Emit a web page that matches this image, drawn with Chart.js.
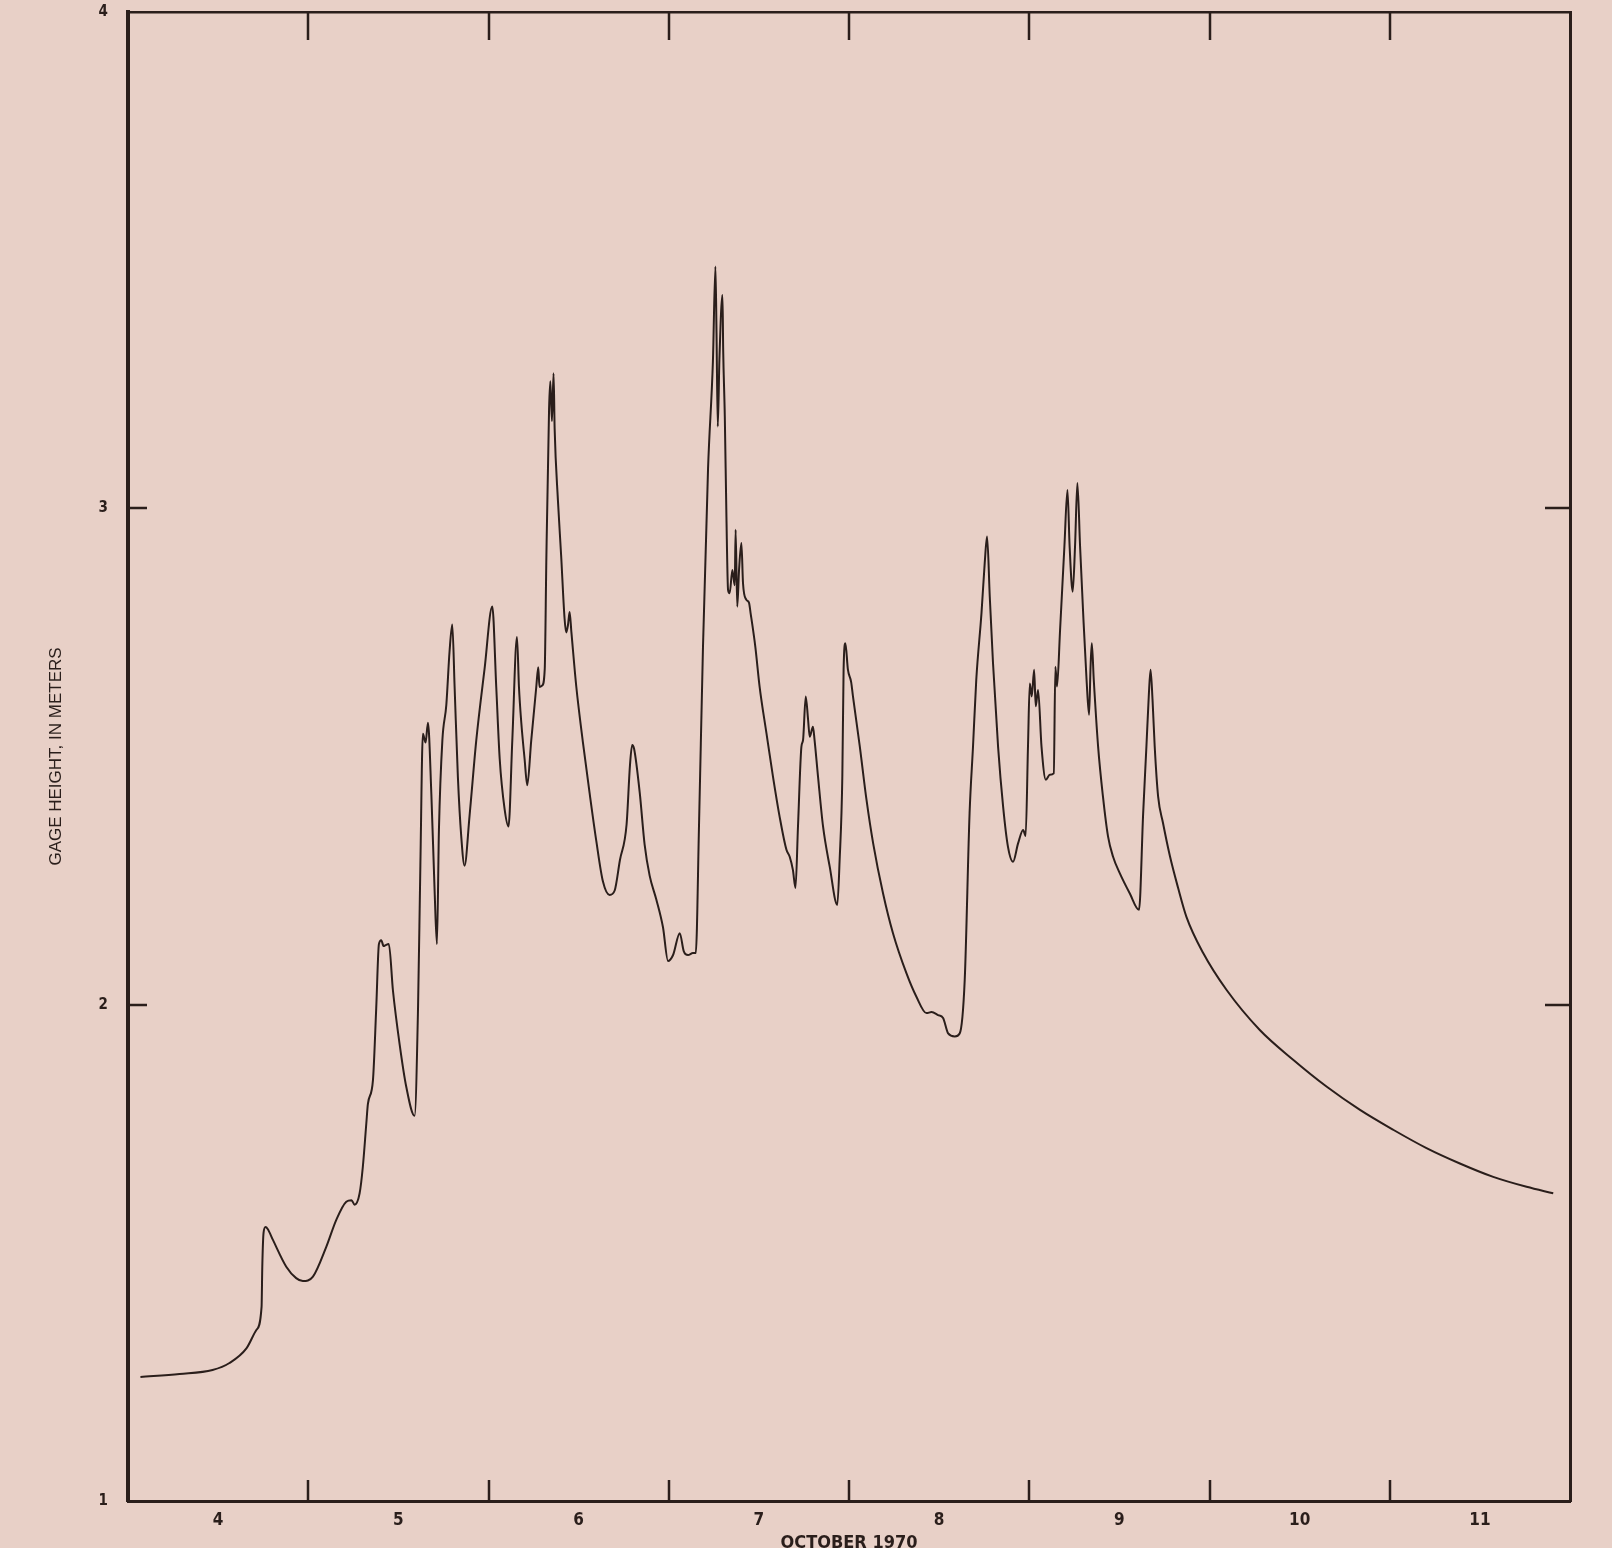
<!DOCTYPE html>
<html>
<head>
<meta charset="utf-8">
<title>Gage height, October 1970</title>
<script src="https://cdn.jsdelivr.net/npm/chart.js@4/dist/chart.umd.min.js"></script>
<style>
	html, body { margin: 0; padding: 0; background: #e8d0c7; overflow: hidden; }
	#wrap { width: 1612px; height: 1548px; }
</style>
</head>
<body>
<div id="wrap"><canvas id="gageChart" width="1612" height="1548"></canvas></div>
<script>
// time in days of October 1970 (4.5 = noon Oct 4), gage height in meters
const days = [
	4.069, 4.286, 4.469, 4.563, 4.658, 4.713, 4.741, 4.745, 4.752, 4.763, 4.775, 4.804, 4.878, 4.933, 4.970,
	5.026, 5.100, 5.155, 5.211, 5.240, 5.257, 5.285, 5.303, 5.322, 5.331, 5.359, 5.377, 5.392, 5.405, 5.418,
	5.429, 5.447, 5.470, 5.507, 5.544, 5.590, 5.609, 5.622, 5.636, 5.651, 5.664, 5.683, 5.701, 5.714, 5.725,
	5.744, 5.766, 5.784, 5.799, 5.812, 5.830, 5.849, 5.867, 5.895, 5.932, 5.978, 6.021, 6.043, 6.062, 6.089,
	6.111, 6.132, 6.158, 6.169, 6.182, 6.200, 6.215, 6.237, 6.265, 6.276, 6.283, 6.298, 6.312, 6.321, 6.336,
	6.343, 6.352, 6.361, 6.367, 6.385, 6.403, 6.422, 6.431, 6.441, 6.450, 6.460, 6.487, 6.524, 6.561, 6.598,
	6.635, 6.672, 6.700, 6.729, 6.766, 6.785, 6.797, 6.808, 6.839, 6.866, 6.894, 6.931, 6.968, 6.996, 7.024,
	7.061, 7.083, 7.107, 7.134, 7.150, 7.168, 7.190, 7.218, 7.245, 7.259, 7.265, 7.272, 7.281, 7.298, 7.302,
	7.311, 7.320, 7.329, 7.338, 7.353, 7.366, 7.371, 7.380, 7.390, 7.403, 7.412, 7.430, 7.445, 7.454, 7.480,
	7.504, 7.542, 7.578, 7.615, 7.653, 7.671, 7.689, 7.703, 7.717, 7.736, 7.745, 7.760, 7.773, 7.782, 7.800,
	7.809, 7.828, 7.856, 7.893, 7.935, 7.948, 7.963, 7.970, 7.980, 7.994, 8.012, 8.022, 8.060, 8.097, 8.134,
	8.189, 8.244, 8.319, 8.374, 8.430, 8.458, 8.494, 8.522, 8.550, 8.587, 8.614, 8.642, 8.669, 8.688, 8.706,
	8.735, 8.753, 8.766, 8.781, 8.799, 8.827, 8.855, 8.882, 8.910, 8.938, 8.966, 8.980, 8.993, 9.003, 9.014,
	9.027, 9.036, 9.049, 9.068, 9.092, 9.114, 9.136, 9.145, 9.154, 9.171, 9.195, 9.212, 9.224, 9.241, 9.254,
	9.267, 9.282, 9.299, 9.318, 9.332, 9.340, 9.347, 9.358, 9.382, 9.409, 9.437, 9.465, 9.502, 9.558, 9.609,
	9.632, 9.650, 9.663, 9.673, 9.684, 9.696, 9.715, 9.742, 9.780, 9.826, 9.872, 9.965, 10.094, 10.279, 10.464,
	10.649, 10.835, 11.019, 11.204, 11.389, 11.574, 11.759, 11.907,
];

const gageHeights = [
	1.250, 1.256, 1.264, 1.278, 1.308, 1.345, 1.391, 1.472, 1.540, 1.552, 1.548, 1.526, 1.472, 1.449, 1.443,
	1.452, 1.512, 1.566, 1.603, 1.606, 1.597, 1.620, 1.674, 1.760, 1.800, 1.848, 1.992, 2.122, 2.130, 2.118,
	2.120, 2.122, 2.028, 1.920, 1.834, 1.776, 1.992, 2.280, 2.546, 2.528, 2.568, 2.424, 2.230, 2.122, 2.352,
	2.532, 2.604, 2.712, 2.766, 2.640, 2.460, 2.338, 2.280, 2.381, 2.532, 2.676, 2.802, 2.640, 2.496, 2.395,
	2.359, 2.532, 2.741, 2.640, 2.568, 2.496, 2.442, 2.532, 2.640, 2.680, 2.640, 2.643, 2.676, 2.900, 3.200,
	3.256, 3.176, 3.272, 3.160, 3.017, 2.905, 2.778, 2.750, 2.765, 2.791, 2.750, 2.641, 2.528, 2.426, 2.330,
	2.248, 2.221, 2.230, 2.291, 2.363, 2.483, 2.523, 2.515, 2.427, 2.323, 2.260, 2.212, 2.156, 2.088, 2.100,
	2.144, 2.108, 2.100, 2.104, 2.104, 2.363, 2.722, 3.080, 3.296, 3.487, 3.353, 3.165, 3.299, 3.430, 3.319,
	3.185, 2.983, 2.836, 2.829, 2.876, 2.845, 2.957, 2.802, 2.876, 2.930, 2.849, 2.816, 2.810, 2.789, 2.722,
	2.641, 2.547, 2.460, 2.379, 2.312, 2.298, 2.271, 2.235, 2.359, 2.520, 2.533, 2.621, 2.574, 2.540, 2.560,
	2.533, 2.460, 2.359, 2.278, 2.201, 2.291, 2.460, 2.675, 2.728, 2.675, 2.650, 2.621, 2.520, 2.413, 2.325,
	2.224, 2.144, 2.063, 2.016, 1.983, 1.985, 1.979, 1.973, 1.942, 1.936, 1.942, 2.050, 2.386, 2.520, 2.654,
	2.789, 2.890, 2.943, 2.822, 2.688, 2.520, 2.399, 2.318, 2.288, 2.325, 2.352, 2.340, 2.520, 2.647, 2.621,
	2.675, 2.601, 2.634, 2.520, 2.453, 2.463, 2.466, 2.681, 2.641, 2.755, 2.923, 3.037, 2.923, 2.832, 2.923,
	3.051, 2.923, 2.789, 2.654, 2.584, 2.680, 2.728, 2.654, 2.520, 2.419, 2.339, 2.298, 2.265, 2.224, 2.191,
	2.386, 2.520, 2.621, 2.675, 2.614, 2.520, 2.419, 2.366, 2.300, 2.235, 2.177, 2.104, 2.030, 1.949, 1.889,
	1.835, 1.788, 1.748, 1.711, 1.680, 1.653, 1.633, 1.620,
];

const dayLabels = [4, 5, 6, 7, 8, 9, 10, 11];
const dayBoundaries = [5, 6, 7, 8, 9, 10, 11];
const heightTicks = [1, 2, 3, 4];
const innerHeightTicks = [2, 3];

const INK = "#2a1e1b";
const FONT = "'Liberation Sans Narrow', 'DejaVu Sans Condensed', 'Liberation Sans', Arial, sans-serif";

// tick marks on the inside of the frame, as on the original plot
const innerTicks = {
	id: "innerTicks",
	afterDraw(chart) {
		const { ctx, chartArea: a, scales } = chart;
		ctx.save();
		ctx.strokeStyle = INK;
		ctx.lineWidth = 2.5;
		ctx.beginPath();
		dayBoundaries.forEach((d) => {
			const x = Math.round(scales.x.getPixelForValue(d));
			ctx.moveTo(x, a.bottom);
			ctx.lineTo(x, a.bottom - 21);
			ctx.moveTo(x, a.top);
			ctx.lineTo(x, a.top + 28);
		});
		innerHeightTicks.forEach((h) => {
			const y = Math.round(scales.y.getPixelForValue(h));
			ctx.moveTo(a.left, y);
			ctx.lineTo(a.left + 19, y);
			ctx.moveTo(a.right, y);
			ctx.lineTo(a.right - 25, y);
		});
		ctx.stroke();
		ctx.restore();
	},
};

function drawChart() {
	const ctx = document.getElementById("gageChart");
	new Chart(ctx, {
		type: "line",
		data: {
			datasets: [
				{
					data: days.map((d, i) => ({ x: d, y: gageHeights[i] })),
					borderColor: INK,
					borderWidth: 2,
					pointRadius: 0,
					cubicInterpolationMode: "monotone",
					fill: false,
				},
			],
		},
		options: {
			responsive: false,
			animation: false,
			devicePixelRatio: 1,
			layout: {
				padding: { top: 12, right: 42, left: 0, bottom: 0 },
			},
			plugins: {
				legend: { display: false },
				tooltip: { enabled: false },
			},
			scales: {
				x: {
					type: "linear",
					position: "bottom",
					min: 4,
					max: 12,
					afterBuildTicks: (s) => {
						s.ticks = dayLabels.map((d) => ({ value: d + 0.5 }));
					},
					afterFit: (s) => {
						s.height = 47;
					},
					ticks: {
						autoSkip: false,
						maxRotation: 0,
						padding: 9,
						color: INK,
						font: { family: FONT, size: 17, weight: "bold" },
						callback: (v) => String(Math.floor(v)),
					},
					grid: { display: false, drawTicks: false },
					border: { display: true, color: INK, width: 3 },
					title: {
						display: true,
						text: "OCTOBER 1970",
						color: INK,
						font: { family: FONT, size: 18, weight: "bold", lineHeight: 1 },
						padding: { top: 0, bottom: -4 },
					},
				},
				x2: {
					type: "linear",
					position: "top",
					min: 4,
					max: 12,
					afterFit: (s) => {
						s.height = 0;
					},
					ticks: { display: false },
					grid: { display: false, drawTicks: false },
					border: { display: true, color: INK, width: 2.5 },
				},
				y: {
					type: "linear",
					position: "left",
					min: 1,
					max: 4,
					afterBuildTicks: (s) => {
						s.ticks = heightTicks.map((h) => ({ value: h }));
					},
					afterFit: (s) => {
						s.width = 128;
					},
					ticks: {
						padding: 0,
						color: INK,
						font: { family: FONT, size: 15, weight: "bold" },
					},
					// hidden grid; its tick length only sets the gap before the labels
					grid: { display: false, drawTicks: true, tickLength: 20 },
					border: { display: true, color: INK, width: 4 },
					title: {
						display: true,
						text: "GAGE HEIGHT, IN METERS",
						color: INK,
						font: { family: "'Liberation Sans', Arial, sans-serif", size: 17, lineHeight: 1.2 },
						padding: { top: 46, bottom: 0 },
					},
				},
				y2: {
					type: "linear",
					position: "right",
					min: 1,
					max: 4,
					afterFit: (s) => {
						s.width = 0;
					},
					ticks: { display: false },
					grid: { display: false, drawTicks: false },
					border: { display: true, color: INK, width: 3 },
				},
			},
		},
		plugins: [innerTicks],
	});
}

drawChart();
</script>
</body>
</html>
